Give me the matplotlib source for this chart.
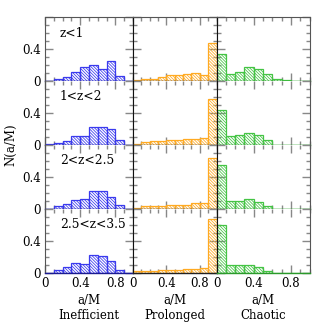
import numpy as np
import matplotlib
matplotlib.use("Agg")
import matplotlib.pyplot as plt
from matplotlib.ticker import MultipleLocator, FixedLocator

plt.rcParams['font.family'] = ['DejaVu Serif']
plt.rcParams['hatch.linewidth'] = 0.55

bin_edges = [0.0, 0.1, 0.2, 0.3, 0.4, 0.5, 0.6, 0.7, 0.8, 0.9, 1.0]
row_labels = ["z<1", "1<z<2", "2<z<2.5", "2.5<z<3.5"]
col_names = ["Inefficient", "Prolonged", "Chaotic"]
col_colors = ["#3a3aee", "#ffaa22", "#44c444"]
zero_colors = ["#1a1a90", "#222222", "#2a9a2a"]

inefficient = [
    [0.0, 0.02, 0.05, 0.11, 0.17, 0.20, 0.15, 0.25, 0.06, 0.0],
    [0.01, 0.025, 0.055, 0.11, 0.11, 0.22, 0.23, 0.20, 0.058, 0.0],
    [0.0, 0.033, 0.067, 0.108, 0.125, 0.22, 0.22, 0.15, 0.046, 0.0],
    [0.0, 0.04, 0.075, 0.125, 0.11, 0.22, 0.21, 0.15, 0.04, 0.0],
]
prolonged = [
    [0.015, 0.025, 0.03, 0.045, 0.07, 0.075, 0.09, 0.095, 0.075, 0.47],
    [0.0125, 0.037, 0.046, 0.054, 0.067, 0.067, 0.075, 0.075, 0.09, 0.57],
    [0.017, 0.0375, 0.0375, 0.042, 0.05, 0.05, 0.054, 0.07, 0.079, 0.64],
    [0.02, 0.025, 0.03, 0.033, 0.0375, 0.0375, 0.046, 0.054, 0.067, 0.67],
]
chaotic = [
    [0.335, 0.09, 0.11, 0.18, 0.15, 0.085, 0.025, 0.01, 0.0, 0.0],
    [0.44, 0.115, 0.127, 0.156, 0.12, 0.06, 0.0, 0.0, 0.0, 0.0],
    [0.55, 0.104, 0.102, 0.12, 0.0875, 0.039, 0.0, 0.0, 0.0, 0.0],
    [0.60, 0.104, 0.094, 0.104, 0.079, 0.025, 0.0, 0.0, 0.0, 0.0],
]
data = [inefficient, prolonged, chaotic]

W = H = 327.0
fig = plt.figure(figsize=(W / 100, H / 100), dpi=100)
col_px = [(45.0, 88.0), (133.0, 83.5), (216.5, 93.0)]
top_px = 17.0
row_h = 64.0

edges = np.array(bin_edges)
for r in range(4):
    for c in range(3):
        x0, w = col_px[c]
        y_top = top_px + r * row_h
        ax = fig.add_axes([x0 / W, 1 - (y_top + row_h) / H, w / W, row_h / H])
        ax.bar(edges[:-1], data[c][r], width=np.diff(edges), align='edge',
               facecolor='none', edgecolor=col_colors[c], hatch='\\' * 11,
               linewidth=0.9, zorder=2)
        ax.set_xlim(0, 1.0)
        ax.set_ylim(0, 0.8)
        ax.xaxis.set_major_locator(FixedLocator([0, 0.4, 0.8]))
        ax.xaxis.set_minor_locator(MultipleLocator(0.1))
        ax.yaxis.set_major_locator(FixedLocator([0, 0.4, 0.8]))
        ax.yaxis.set_minor_locator(MultipleLocator(0.1))
        ax.tick_params(which='both', direction='in', top=True, right=True,
                       color='#888888', width=1.0)
        ax.tick_params(which='major', length=6)
        ax.tick_params(which='minor', length=3)
        ax.tick_params(labelsize=8.5, pad=3)
        if c == 0:
            ax.set_yticklabels(["0", "0.4", ""])
        else:
            ax.set_yticklabels([])
        if r == 3:
            ax.set_xticklabels(["0", "0.4", "0.8"])
            ax.set_xlabel("a/M\n" + col_names[c], fontsize=8.5, labelpad=3,
                          linespacing=1.2)
        else:
            ax.set_xticklabels([])
        for s in ['top', 'left', 'right']:
            ax.spines[s].set_color('#555555')
        if c > 0:
            ax.spines['left'].set_color('#111111')
        if c < 2:
            ax.spines['right'].set_color('#111111')
        if r > 0:
            ax.spines['top'].set_visible(False)
        ax.spines['bottom'].set_color(zero_colors[c])
        ax.spines['bottom'].set_linewidth(1.0)
        ax.spines['bottom'].set_zorder(3)
        if c == 0:
            ax.text(0.17, 0.6, row_labels[r], fontsize=8.8, ha='left', va='center')

fig.text(11 / W, 1 - 145 / H, "N(a/M)", rotation=90, fontsize=8.5,
         ha='center', va='center')

fig.savefig("out.png", dpi=100)
